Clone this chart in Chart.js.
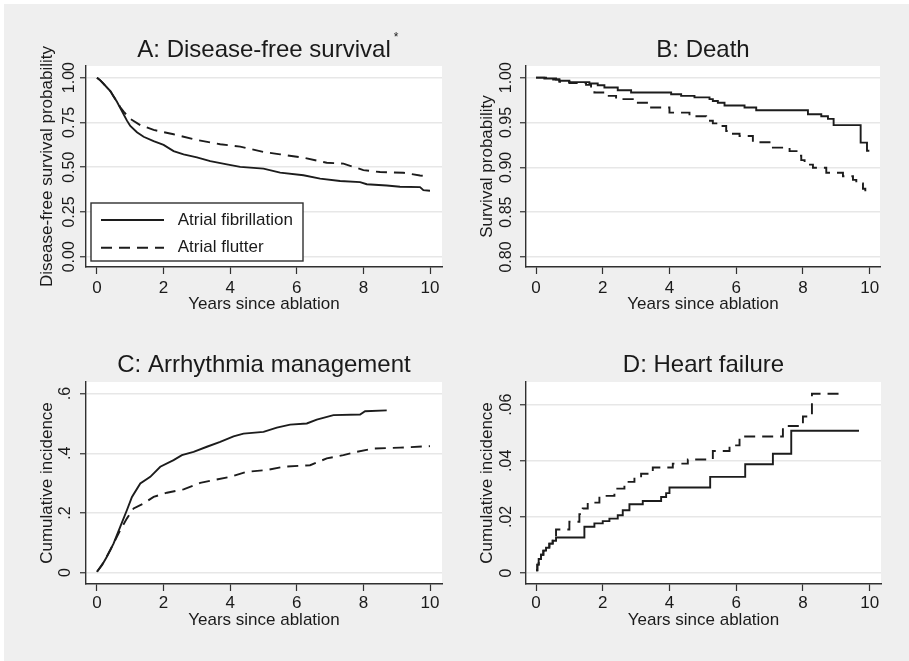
<!DOCTYPE html>
<html>
<head>
<meta charset="utf-8">
<script src="https://cdn.jsdelivr.net/npm/chart.js@4.4.1/dist/chart.umd.min.js"></script>
<style>
html,body{margin:0;padding:0;background:#ffffff;width:909px;height:661px;overflow:hidden;}
#fig{position:absolute;left:4px;top:4px;width:905px;height:657px;background:#efefef;}
canvas{position:absolute;}
</style>
</head>
<body>
<div id="fig"></div>
<canvas id="cA" width="455" height="330" style="left:0px;top:0px"></canvas>
<canvas id="cB" width="454" height="330" style="left:455px;top:0px"></canvas>
<canvas id="cC" width="455" height="345" style="left:0px;top:316px"></canvas>
<canvas id="cD" width="454" height="345" style="left:455px;top:316px"></canvas>
<script>
// ---------------- data ----------------
const seriesLabels = ['Atrial fibrillation', 'Atrial flutter'];
const xTitle = 'Years since ablation';
const xTicks = [0, 2, 4, 6, 8, 10];

// Panel A: Disease-free survival
const aTitle = 'A: Disease-free survival';
const aYTitle = 'Disease-free survival probability';
const aYTicks = [0, 0.25, 0.5, 0.75, 1];
const aYTickLabels = ['0.00', '0.25', '0.50', '0.75', '1.00'];
const aFibT = [0, 0.1, 0.2, 0.3, 0.4, 0.5, 0.6, 0.7, 0.8, 0.9, 1.0, 1.2, 1.4, 1.7, 2.0, 2.3, 2.6, 3.0, 3.4, 3.9, 4.3, 5.0, 5.5, 6.2, 6.7, 7.3, 7.9, 8.1, 8.7, 9.1, 9.7, 9.8, 10.0];
const aFibS = [1.0, 0.985, 0.965, 0.945, 0.925, 0.895, 0.865, 0.83, 0.795, 0.76, 0.73, 0.695, 0.67, 0.645, 0.625, 0.59, 0.572, 0.555, 0.534, 0.516, 0.502, 0.492, 0.47, 0.455, 0.436, 0.423, 0.417, 0.405, 0.398, 0.391, 0.389, 0.372, 0.369];
const aFlutT = [0, 0.1, 0.2, 0.3, 0.4, 0.5, 0.6, 0.7, 0.8, 0.9, 1.0, 1.3, 1.7, 2.3, 3.0, 3.7, 4.3, 5.0, 5.5, 6.2, 6.9, 7.4, 8.0, 8.5, 9.2, 9.7, 9.95];
const aFlutS = [1.0, 0.985, 0.965, 0.945, 0.925, 0.895, 0.865, 0.835, 0.81, 0.79, 0.77, 0.735, 0.708, 0.684, 0.652, 0.628, 0.615, 0.585, 0.572, 0.553, 0.525, 0.52, 0.484, 0.473, 0.469, 0.454, 0.45];

// Panel B: Death
const bTitle = 'B: Death';
const bYTitle = 'Survival probability';
const bYTicks = [0.80, 0.85, 0.90, 0.95, 1.00];
const bYTickLabels = ['0.80', '0.85', '0.90', '0.95', '1.00'];
const bFibT = [0, 0.25, 0.6, 0.7, 1.0, 1.6, 1.85, 2.05, 2.45, 2.85, 4.05, 4.35, 4.75, 5.2, 5.3, 5.45, 5.65, 6.25, 6.6, 8.15, 8.55, 8.75, 8.92, 9.73, 9.92, 9.99];
const bFibS = [1.0, 0.999, 0.998, 0.9965, 0.995, 0.9935, 0.9915, 0.989, 0.986, 0.9834, 0.9815, 0.9797, 0.978, 0.976, 0.974, 0.972, 0.969, 0.9667, 0.9637, 0.9592, 0.957, 0.954, 0.947, 0.9275, 0.9185, 0.9185];
const bFlutT = [0, 0.3, 0.7, 1.0, 1.5, 1.65, 1.75, 2.1, 2.4, 2.9, 3.4, 4.0, 4.6, 5.1, 5.3, 5.5, 5.7, 5.85, 6.1, 6.5, 7.1, 7.6, 7.85, 7.95, 8.05, 8.3, 8.7, 9.2, 9.5, 9.6, 9.8, 9.87, 9.9];
const bFlutS = [1.0, 0.998, 0.9955, 0.994, 0.992, 0.986, 0.9835, 0.9797, 0.976, 0.972, 0.9667, 0.961, 0.957, 0.952, 0.949, 0.946, 0.9405, 0.9375, 0.935, 0.928, 0.922, 0.918, 0.913, 0.908, 0.903, 0.8995, 0.894, 0.89, 0.886, 0.882, 0.876, 0.871, 0.8665];

// Panel C: Arrhythmia management
const cTitle = 'C: Arrhythmia management';
const cYTitle = 'Cumulative incidence';
const cYTicks = [0, 0.2, 0.4, 0.6];
const cYTickLabels = ['0', '.2', '.4', '.6'];
const cFibT = [0, 0.15, 0.3, 0.5, 0.7, 0.9, 1.05, 1.3, 1.6, 1.9, 2.3, 2.55, 2.9, 3.3, 3.7, 4.1, 4.4, 5.0, 5.4, 5.8, 6.3, 6.6, 7.1, 7.9, 8.05, 8.7];
const cFibY = [0.003, 0.025, 0.054, 0.098, 0.154, 0.21, 0.254, 0.299, 0.321, 0.355, 0.377, 0.394, 0.405, 0.422, 0.438, 0.457, 0.466, 0.472, 0.486, 0.496, 0.5, 0.513, 0.528, 0.53, 0.541, 0.544];
const cFlutT = [0, 0.2, 0.4, 0.7, 0.9, 1.1, 1.4, 1.7, 2.1, 2.6, 3.1, 3.5, 4.0, 4.5, 5.1, 5.6, 6.4, 6.9, 7.4, 7.8, 8.3, 9.1, 10.0];
const cFlutY = [0.003, 0.035, 0.076, 0.143, 0.182, 0.215, 0.232, 0.254, 0.268, 0.279, 0.301, 0.31, 0.321, 0.338, 0.344, 0.355, 0.36, 0.383, 0.394, 0.405, 0.416, 0.419, 0.424];

// Panel D: Heart failure
const dTitle = 'D: Heart failure';
const dYTitle = 'Cumulative incidence';
const dYTicks = [0, 0.02, 0.04, 0.06];
const dYTickLabels = ['0', '.02', '.04', '.06'];
const dFibT = [0, 0.04, 0.08, 0.15, 0.22, 0.3, 0.4, 0.5, 0.6, 1.45, 1.75, 2.0, 2.2, 2.45, 2.6, 2.8, 3.2, 3.75, 3.9, 4.0, 5.22, 6.27, 7.1, 7.65, 9.68];
const dFibY = [0.001, 0.003, 0.005, 0.0065, 0.008, 0.009, 0.0105, 0.0115, 0.0127, 0.0165, 0.0177, 0.0185, 0.0194, 0.0206, 0.0224, 0.0245, 0.0257, 0.0271, 0.0285, 0.0305, 0.0343, 0.0388, 0.0425, 0.0507, 0.0507];
const dFlutT = [0, 0.04, 0.08, 0.15, 0.22, 0.3, 0.4, 0.5, 0.6, 1.0, 1.3, 1.4, 1.55, 1.9, 2.35, 2.65, 2.95, 3.15, 3.5, 4.1, 4.55, 5.3, 5.8, 6.1, 7.4, 8.0, 8.27, 9.27];
const dFlutY = [0.001, 0.003, 0.005, 0.0065, 0.008, 0.009, 0.0105, 0.0115, 0.0155, 0.0183, 0.021, 0.023, 0.0251, 0.0275, 0.0301, 0.0325, 0.034, 0.0354, 0.0376, 0.039, 0.0405, 0.0435, 0.0455, 0.0487, 0.0524, 0.0558, 0.0639, 0.0639];

// ---------------- style ----------------
const FONT = '"Liberation Sans", Arial, Helvetica, sans-serif';
const TXT = '#1a1a1a';
const AX = '#303030';
const GRID = '#e7e7e7';
const LINE = '#1c1c1c';
const DASH = [11, 7];

function zip(xs, ys) { return xs.map((x, i) => ({ x: x, y: ys[i] })); }

const plotBg = {
  id: 'plotBg',
  beforeDraw(chart) {
    const a = chart.chartArea, ctx = chart.ctx;
    ctx.save();
    ctx.fillStyle = '#ffffff';
    ctx.fillRect(a.left, a.top, a.right - a.left, a.bottom - a.top);
    ctx.restore();
  }
};

const boxLegend = {
  id: 'boxLegend',
  afterDatasetsDraw(chart, args, o) {
    if (!o || !o.box) return;
    const ctx = chart.ctx, b = o.box;
    ctx.save();
    ctx.fillStyle = '#ffffff';
    ctx.fillRect(b.x, b.y, b.w, b.h);
    ctx.strokeStyle = AX; ctx.lineWidth = 1.4;
    ctx.strokeRect(b.x, b.y, b.w, b.h);
    chart.data.datasets.forEach((ds, i) => {
      const y = b.y + o.rows[i];
      ctx.setLineDash(ds.borderDash || []);
      ctx.lineWidth = ds.borderWidth; ctx.strokeStyle = ds.borderColor;
      ctx.beginPath(); ctx.moveTo(b.x + o.x0, y); ctx.lineTo(b.x + o.x1, y); ctx.stroke();
      ctx.setLineDash([]);
      ctx.fillStyle = TXT; ctx.font = '17px ' + FONT;
      ctx.textAlign = 'left'; ctx.textBaseline = 'middle';
      ctx.fillText(ds.label, b.x + o.tx, y);
    });
    ctx.restore();
  }
};

const titleMark = {
  id: 'titleMark',
  afterDraw(chart, args, o) {
    if (!o || !o.text) return;
    const tb = chart.titleBlock, ctx = chart.ctx;
    ctx.save();
    ctx.font = '24px ' + FONT;
    const w = ctx.measureText(chart.options.plugins.title.text).width;
    const cx = (tb.left + tb.right) / 2;
    ctx.font = '12px ' + FONT;
    ctx.fillStyle = TXT; ctx.textAlign = 'left'; ctx.textBaseline = 'alphabetic';
    ctx.fillText(o.text, cx + w / 2 + 3, o.y);
    ctx.restore();
  }
};

function makePanel(id, g, p) {
  const canvas = document.getElementById(id);
  const W = canvas.width, H = canvas.height;
  const m = document.createElement('canvas').getContext('2d');
  m.font = '16px ' + FONT;
  const widest = Math.max.apply(null, p.yLabels.map(s => m.measureText(s).width));
  const yTL = 6;
  const yPad = g.yLabOff - yTL - widest / 2;
  const mk = (t, v, dashed) => ({
    label: dashed ? seriesLabels[1] : seriesLabels[0],
    data: zip(t, v),
    borderColor: LINE, borderWidth: 1.9,
    borderDash: dashed ? DASH : [],
    pointRadius: 0, tension: 0, fill: false,
    stepped: p.stepped ? 'before' : false
  });
  const plugins = [plotBg];
  if (p.legend) plugins.push(boxLegend);
  if (p.mark) plugins.push(titleMark);
  return new Chart(canvas, {
    type: 'line',
    data: { datasets: [mk(p.fibT, p.fibV, false), mk(p.flutT, p.flutV, true)] },
    plugins: plugins,
    options: {
      responsive: false, animation: false, devicePixelRatio: 1,
      events: [],
      layout: { padding: { left: 0, top: 0, right: W - g.r, bottom: 0 } },
      plugins: {
        legend: { display: false },
        tooltip: { enabled: false },
        title: {
          display: true, text: p.title, fullSize: false, color: TXT,
          font: { family: FONT, size: 24, weight: 'normal', lineHeight: 1.2 },
          padding: { top: g.titleY - 14.4, bottom: g.t - (g.titleY - 14.4) - 28.8 }
        },
        boxLegend: p.legend || false,
        titleMark: p.mark || false
      },
      scales: {
        x: {
          type: 'linear', position: 'bottom', min: g.xMin, max: g.xMax,
          afterBuildTicks: s => { s.ticks = xTicks.map(v => ({ value: v })); },
          afterFit: s => { s.height = H - g.b; },
          ticks: {
            font: { family: FONT, size: 17 }, color: TXT, padding: g.xPad,
            maxRotation: 0, minRotation: 0, autoSkip: false,
            callback: v => String(v)
          },
          grid: { drawOnChartArea: false, drawTicks: true, tickLength: 7, tickColor: AX, tickWidth: 1.2 },
          border: { display: true, color: AX, width: 1.4 },
          title: { display: true, text: xTitle, color: TXT, font: { family: FONT, size: 17, lineHeight: 1.2 }, padding: { top: 0, bottom: g.xTitlePadB } }
        },
        y: {
          type: 'linear', position: 'left', min: g.yMin, max: g.yMax,
          afterBuildTicks: s => { s.ticks = p.yTicks.map(v => ({ value: v })); },
          afterFit: s => { s.width = g.l; },
          ticks: {
            font: { family: FONT, size: 16 }, color: TXT, padding: yPad,
            minRotation: 90, maxRotation: 90, crossAlign: 'center', autoSkip: false,
            callback: (v, i) => p.yLabels[i]
          },
          grid: { color: GRID, lineWidth: 1.5, drawTicks: true, tickLength: yTL, tickColor: AX, tickWidth: 1.2 },
          border: { display: true, color: AX, width: 1.4 },
          title: { display: true, text: p.yTitle, color: TXT, font: { family: FONT, size: 17, lineHeight: 1.2 }, padding: { top: g.yTitleX - 10.2, bottom: 0 } }
        }
      }
    }
  });
}

makePanel('cA',
  { l: 86, t: 66, r: 442, b: 267, titleY: 50.5, xPad: 3.8, xTitlePadB: 15.1, yTitleX: 47.3, yLabOff: 16.5, xMin: -0.33, xMax: 10.36, yMin: -0.057, yMax: 1.065 },
  { title: aTitle, yTitle: aYTitle, yTicks: aYTicks, yLabels: aYTickLabels, fibT: aFibT, fibV: aFibS, flutT: aFlutT, flutV: aFlutS, stepped: false,
    legend: { box: { x: 91, y: 203, w: 212, h: 58 }, rows: [17, 44.7], x0: 10, x1: 73, tx: 86.7 },
    mark: { text: '*', y: 41 } });

makePanel('cB',
  { l: 71, t: 66, r: 425, b: 267, titleY: 50.5, xPad: 3.8, xTitlePadB: 15.1, yTitleX: 32.5, yLabOff: 19, xMin: -0.3, xMax: 10.31, yMin: 0.7888, yMax: 1.013 },
  { title: bTitle, yTitle: bYTitle, yTicks: bYTicks, yLabels: bYTickLabels, fibT: bFibT, fibV: bFibS, flutT: bFlutT, flutV: bFlutS, stepped: true });

makePanel('cC',
  { l: 86, t: 66, r: 442, b: 268, titleY: 49.8, xPad: 1.8, xTitlePadB: 30.3, yTitleX: 47.5, yLabOff: 20.5, xMin: -0.33, xMax: 10.36, yMin: -0.038, yMax: 0.639 },
  { title: cTitle, yTitle: cYTitle, yTicks: cYTicks, yLabels: cYTickLabels, fibT: cFibT, fibV: cFibY, flutT: cFlutT, flutV: cFlutY, stepped: false });

makePanel('cD',
  { l: 71, t: 66, r: 426, b: 268, titleY: 49.8, xPad: 1.8, xTitlePadB: 30.3, yTitleX: 32.5, yLabOff: 19, xMin: -0.3, xMax: 10.34, yMin: -0.0039, yMax: 0.0681 },
  { title: dTitle, yTitle: dYTitle, yTicks: dYTicks, yLabels: dYTickLabels, fibT: dFibT, fibV: dFibY, flutT: dFlutT, flutV: dFlutY, stepped: true });
</script>
</body>
</html>
